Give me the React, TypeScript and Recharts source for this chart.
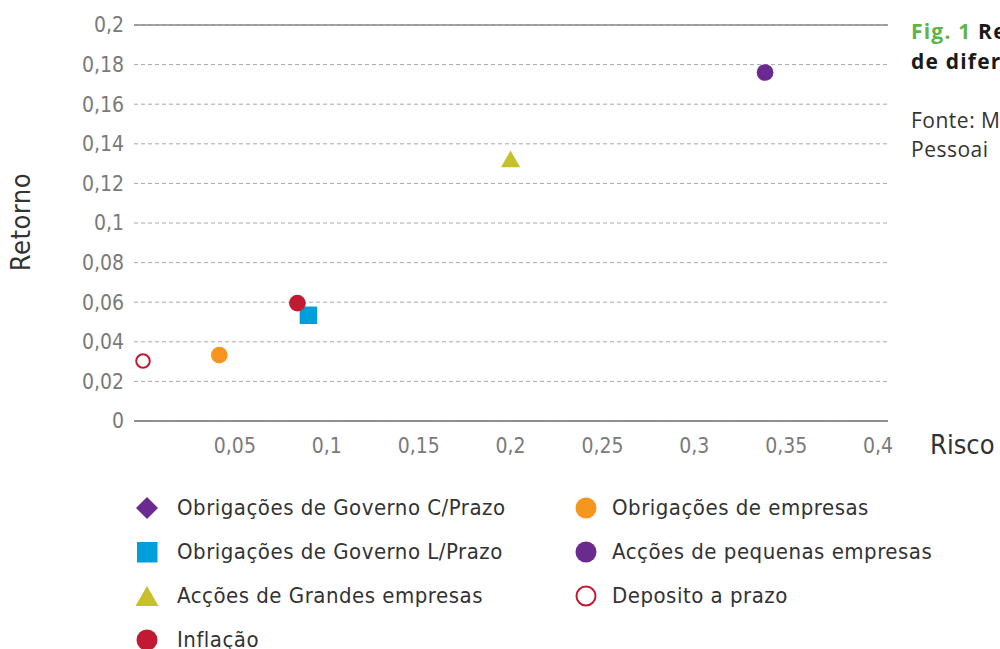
import React from 'react';
import { ScatterChart, Scatter, XAxis, YAxis, CartesianGrid, ReferenceLine, Legend, Symbols } from 'recharts';

type Pt = { risco: number; retorno: number };

// Data (risco = x, retorno = y)
const obrigGovCurtoPrazo: Pt[] = [];
const obrigGovLongoPrazo: Pt[] = [{ risco: 0.09, retorno: 0.0534 }];
const accoesGrandes: Pt[] = [{ risco: 0.2, retorno: 0.131 }];
const inflacao: Pt[] = [{ risco: 0.084, retorno: 0.0595 }];
const obrigEmpresas: Pt[] = [{ risco: 0.0415, retorno: 0.0333 }];
const accoesPequenas: Pt[] = [{ risco: 0.3385, retorno: 0.176 }];
const depositoPrazo: Pt[] = [{ risco: 0.0, retorno: 0.0303 }];

const xTicks = [0.05, 0.1, 0.15, 0.2, 0.25, 0.3, 0.35, 0.4];
const yTicks = [0, 0.02, 0.04, 0.06, 0.08, 0.1, 0.12, 0.14, 0.16, 0.18, 0.2];

const seriesNames = [
  'Obrigações de Governo C/Prazo',
  'Obrigações de Governo L/Prazo',
  'Acções de Grandes empresas',
  'Inflação',
  'Obrigações de empresas',
  'Acções de pequenas empresas',
  'Deposito a prazo',
];
const seriesColors = ['#6B2A90', '#009EDB', '#C6C12A', '#C21A32', '#F7961F', '#6B2A90', '#C21A32'];
const seriesShapes = ['diamond', 'square', 'triangle', 'circle', 'circle', 'circle', 'hollow'];
const seriesData = [
  obrigGovCurtoPrazo,
  obrigGovLongoPrazo,
  accoesGrandes,
  inflacao,
  obrigEmpresas,
  accoesPequenas,
  depositoPrazo,
];

const TICK_FONT = '"DejaVu Sans Condensed", "DejaVu Sans", sans-serif';
const fmt = (v: number) => String(v).replace('.', ',');

const makeShape = (kind: string, color: string) => (props: any) => {
  const { cx, cy } = props;
  if (kind === 'hollow') {
    return <circle cx={cx} cy={cy} r={6.8} fill="#fff" stroke={color} strokeWidth={2} />;
  }
  if (kind === 'square') {
    return <Symbols cx={cx} cy={cy} type="square" size={306} fill={color} />;
  }
  if (kind === 'triangle') {
    return <Symbols cx={cx} cy={cy} type="triangle" size={160} fill={color} />;
  }
  if (kind === 'diamond') {
    return <Symbols cx={cx} cy={cy} type="diamond" size={200} fill={color} />;
  }
  return <Symbols cx={cx} cy={cy} type="circle" size={219} fill={color} />;
};

const LegendMarker = ({ kind, color }: { kind: string; color: string }) => {
  return (
    <svg width={26} height={26} style={{ display: 'block' }}>
      {kind === 'diamond' && <polygon points="13,2 24,13 13,24 2,13" fill={color} />}
      {kind === 'square' && <rect x={3} y={3} width={20.5} height={20.5} fill={color} />}
      {kind === 'triangle' && <polygon points="13,3 24.5,23 1.5,23" fill={color} />}
      {kind === 'circle' && <circle cx={13} cy={13} r={10.5} fill={color} />}
      {kind === 'hollow' && <circle cx={13} cy={13} r={9.5} fill="#fff" stroke={color} strokeWidth={2} />}
    </svg>
  );
};

const renderLegend = () => {
  const col = (idx: number[], markerX: number, textX: number) =>
    idx.map((i, row) => (
      <div key={i} style={{ position: 'absolute', left: markerX - 13, top: 19 + row * 44 - 13, width: 26, height: 26 }}>
        <LegendMarker kind={seriesShapes[i]} color={seriesColors[i]} />
      </div>
    )).concat(
      idx.map((i, row) => (
        <div
          key={'t' + i}
          style={{
            position: 'absolute',
            left: textX,
            top: 19 + row * 44 - 14,
            height: 28,
            lineHeight: '28px',
            fontFamily: TICK_FONT,
            fontSize: 22,
            letterSpacing: 0.5,
            color: '#333',
            whiteSpace: 'nowrap',
          }}
        >
          {seriesNames[i]}
        </div>
      ))
    );
  return (
    <div style={{ position: 'relative', width: 992, height: 160 }}>
      {col([0, 1, 2, 3], 139, 169)}
      {col([4, 5, 6], 578, 604)}
    </div>
  );
};

export default function App() {
  return (
    <div
      style={{
        position: 'relative',
        width: 992,
        height: 641,
        overflow: 'hidden',
        background: '#fff',
      }}
    >
      <style>{'body{margin-right:0;}'}</style>
      <ScatterChart width={992} height={641} margin={{ top: 17, right: 112, bottom: 28, left: 66 }}>
        <CartesianGrid vertical={false} stroke="#a8a8a8" strokeDasharray="4 3" />
        <XAxis
          type="number"
          dataKey="risco"
          domain={[-0.0049, 0.4054]}
          allowDataOverflow
          ticks={xTicks}
          tickFormatter={fmt}
          height={40}
          axisLine={{ stroke: '#8a8a8a', strokeWidth: 1.5 }}
          tickLine={false}
          tickSize={0}
          tickMargin={17}
          tick={{ fill: '#7a7a7a', fontSize: 21, fontFamily: TICK_FONT }}
          interval={0}
        />
        <YAxis
          type="number"
          dataKey="retorno"
          domain={[0, 0.2]}
          allowDataOverflow
          ticks={yTicks}
          tickFormatter={fmt}
          width={60}
          axisLine={false}
          tickLine={false}
          tickSize={0}
          tickMargin={10}
          tick={{ fill: '#7a7a7a', fontSize: 21, fontFamily: TICK_FONT }}
          interval={0}
        />
        <ReferenceLine y={0.2} stroke="#8a8a8a" strokeWidth={1.5} />
        <ReferenceLine y={0} stroke="#8a8a8a" strokeWidth={1.5} />
        {seriesData.map((d, i) => (
          <Scatter
            key={seriesNames[i]}
            name={seriesNames[i]}
            data={d}
            fill={seriesColors[i]}
            shape={makeShape(seriesShapes[i], seriesColors[i])}
            isAnimationActive={false}
          />
        ))}
        <Legend
          verticalAlign="bottom"
          height={160}
          content={renderLegend}
          wrapperStyle={{ left: 0, bottom: 0, width: 992, height: 160 }}
        />
      </ScatterChart>
      <svg
        width={40}
        height={200}
        style={{ position: 'absolute', left: 0, top: 222 - 8 - 100, overflow: 'visible' }}
      >
        <text
          x={12}
          y={100}
          transform="rotate(-90 12 100)"
          textAnchor="middle"
          dominantBaseline="central"
          fontFamily={TICK_FONT}
          fontSize={27}
          letterSpacing={0.5}
          fill="#333"
        >
          Retorno
        </text>
      </svg>
      <div
        style={{
          position: 'absolute',
          left: 922,
          top: 445 - 8 - 18,
          fontFamily: TICK_FONT,
          fontSize: 27,
          color: '#333',
          lineHeight: '36px',
          whiteSpace: 'nowrap',
        }}
      >
        Risco
      </div>
      <div
        style={{
          position: 'absolute',
          left: 903,
          top: 17 - 8,
          fontFamily: '"Open Sans", sans-serif',
          fontSize: 21,
          lineHeight: '29.5px',
          whiteSpace: 'nowrap',
          color: '#1a1a1a',
        }}
      >
        <div style={{ fontWeight: 700, letterSpacing: 1.2 }}>
          <span style={{ color: '#5DB447' }}>Fig. 1</span> Re
        </div>
        <div style={{ fontWeight: 700, letterSpacing: 1.2 }}>de difer</div>
        <div style={{ height: 29.5 }} />
        <div style={{ color: '#333', letterSpacing: 0.5 }}>Fonte: M</div>
        <div style={{ color: '#333', letterSpacing: 0.5 }}>Pessoai</div>
      </div>
    </div>
  );
}
